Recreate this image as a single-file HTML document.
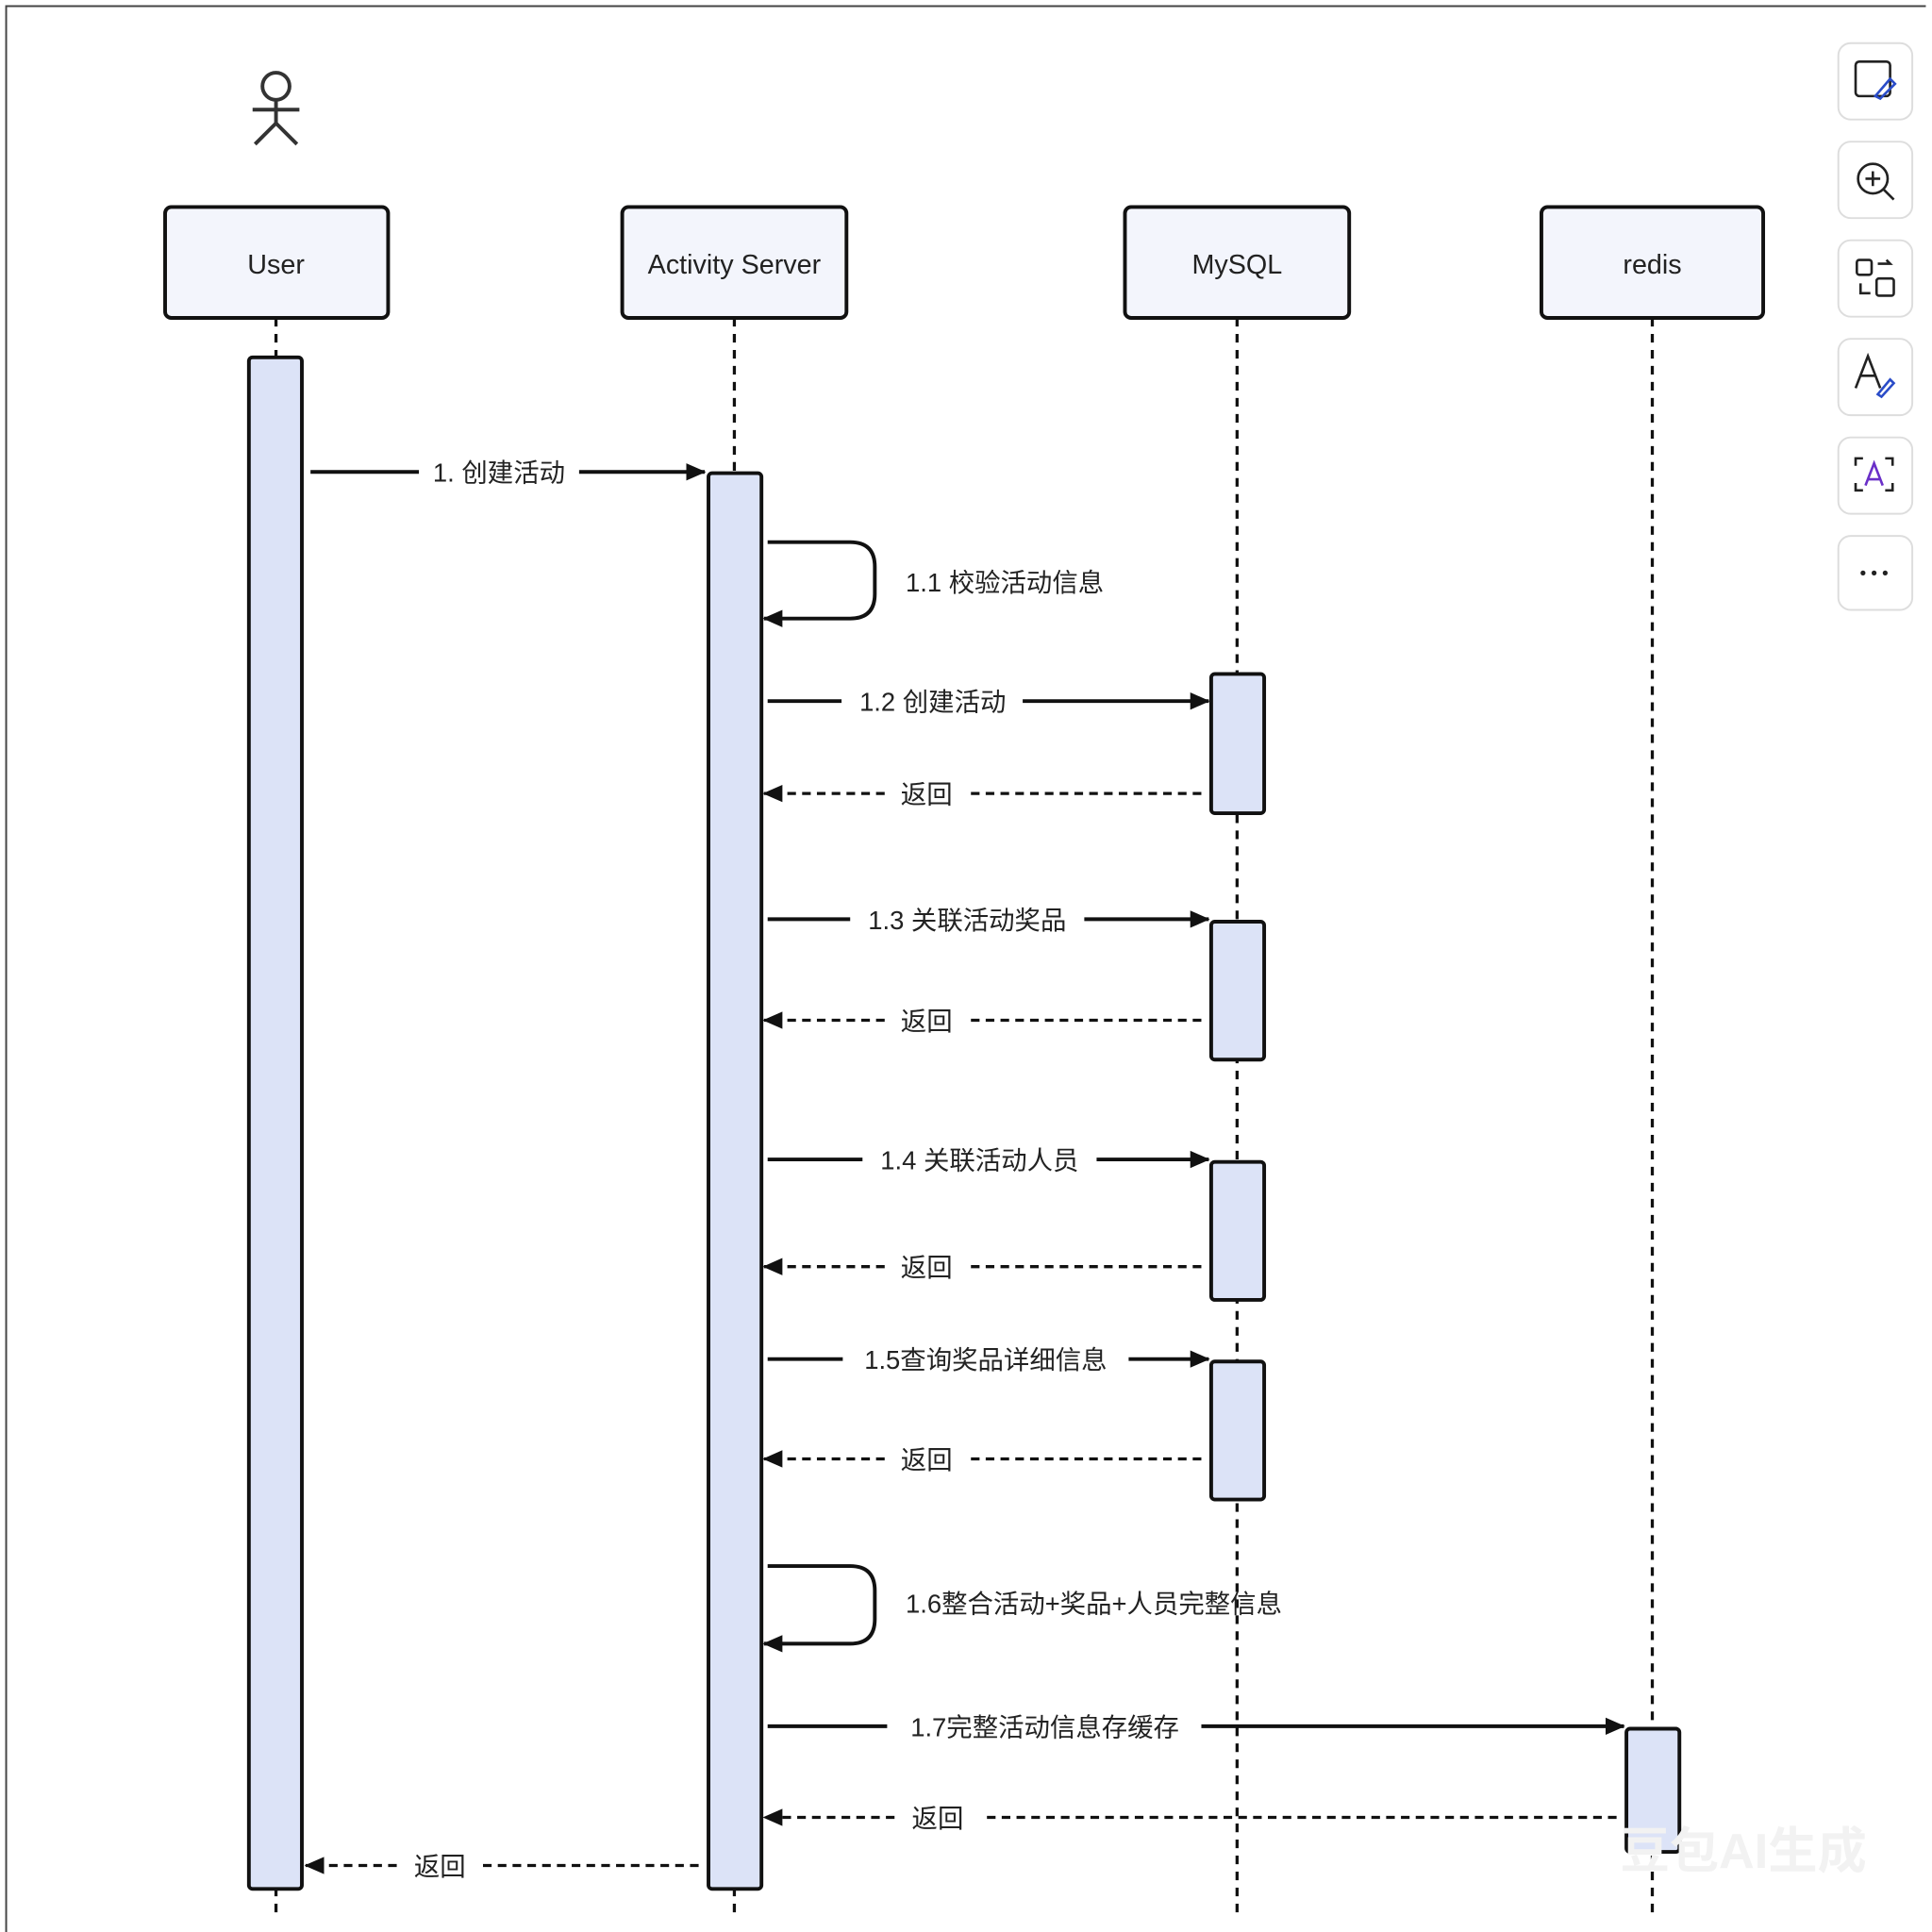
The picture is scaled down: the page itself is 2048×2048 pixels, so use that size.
<!DOCTYPE html>
<html><head><meta charset="utf-8"><style>
html,body{margin:0;padding:0;background:#fff;}
svg{display:block;}
text{font-family:"Liberation Sans","Noto Sans CJK SC",sans-serif;fill:#222;}
</style></head><body>
<svg width="2048" height="2048" viewBox="0 0 1568 1568" xmlns="http://www.w3.org/2000/svg">
<defs>
<marker id="a" markerWidth="16" markerHeight="16" refX="15" refY="8" orient="auto" markerUnits="userSpaceOnUse">
<path d="M0,1 L16,8 L0,15 Z" fill="#111"/>
</marker>
</defs>
<rect x="0" y="0" width="1568" height="1568" fill="#fff"/>
<path d="M5,1568 L5,5 L1563,5" fill="none" stroke="#444" stroke-width="1.5"/>
<g stroke="#333" stroke-width="3" fill="none">
<circle cx="224" cy="70" r="11"/>
<line x1="224" y1="81" x2="224" y2="100"/>
<line x1="205" y1="89" x2="243" y2="89"/>
<line x1="224" y1="100" x2="207" y2="117"/>
<line x1="224" y1="100" x2="241" y2="117"/>
</g>
<g stroke="#111" stroke-width="2.5" stroke-dasharray="7,6">
<line x1="224" y1="258" x2="224" y2="1552"/>
<line x1="596" y1="258" x2="596" y2="1552"/>
<line x1="1004" y1="258" x2="1004" y2="1552"/>
<line x1="1341" y1="258" x2="1341" y2="1552"/>
</g>
<g fill="#f3f5fc" stroke="#111" stroke-width="3">
<rect x="134" y="168" width="181" height="90" rx="5"/>
<rect x="505" y="168" width="182" height="90" rx="5"/>
<rect x="913" y="168" width="182" height="90" rx="5"/>
<rect x="1251" y="168" width="180" height="90" rx="5"/>
</g>
<g font-size="22" text-anchor="middle">
<text x="224" y="222">User</text>
<text x="596" y="222">Activity Server</text>
<text x="1004" y="222">MySQL</text>
<text x="1341" y="222">redis</text>
</g>
<g fill="#dce3f7" stroke="#111" stroke-width="3">
<rect x="202" y="290" width="43" height="1243" rx="3"/>
<rect x="575" y="384" width="43" height="1149" rx="3"/>
<rect x="983" y="547" width="43" height="113" rx="3"/>
<rect x="983" y="748" width="43" height="112" rx="3"/>
<rect x="983" y="943" width="43" height="112" rx="3"/>
<rect x="983" y="1105" width="43" height="112" rx="3"/>
<rect x="1320" y="1403" width="43" height="100" rx="3"/>
</g>
<g stroke="#111" stroke-width="3" fill="none">
<line x1="252" y1="383" x2="340" y2="383"/><line x1="470" y1="383" x2="572" y2="383" marker-end="url(#a)"/>
<path d="M623,440 L690,440 Q710,440 710,460 L710,482 Q710,502 690,502 L620,502" marker-end="url(#a)"/>
<line x1="623" y1="569" x2="683" y2="569"/><line x1="830" y1="569" x2="981" y2="569" marker-end="url(#a)"/>
<line x1="623" y1="746" x2="690" y2="746"/><line x1="880" y1="746" x2="981" y2="746" marker-end="url(#a)"/>
<line x1="623" y1="941" x2="700" y2="941"/><line x1="890" y1="941" x2="981" y2="941" marker-end="url(#a)"/>
<line x1="623" y1="1103" x2="684" y2="1103"/><line x1="916" y1="1103" x2="981" y2="1103" marker-end="url(#a)"/>
<path d="M623,1271 L690,1271 Q710,1271 710,1291 L710,1314 Q710,1334 690,1334 L620,1334" marker-end="url(#a)"/>
<line x1="623" y1="1401" x2="720" y2="1401"/><line x1="975" y1="1401" x2="1318" y2="1401" marker-end="url(#a)"/>
</g>
<g stroke="#111" stroke-width="2.5" fill="none" stroke-dasharray="7,5">
<line x1="975" y1="644" x2="788" y2="644"/><line x1="718" y1="644" x2="620" y2="644" marker-end="url(#a)"/>
<line x1="975" y1="828" x2="788" y2="828"/><line x1="718" y1="828" x2="620" y2="828" marker-end="url(#a)"/>
<line x1="975" y1="1028" x2="788" y2="1028"/><line x1="718" y1="1028" x2="620" y2="1028" marker-end="url(#a)"/>
<line x1="975" y1="1184" x2="788" y2="1184"/><line x1="718" y1="1184" x2="620" y2="1184" marker-end="url(#a)"/>
<line x1="1312" y1="1475" x2="796" y2="1475"/><line x1="726" y1="1475" x2="620" y2="1475" marker-end="url(#a)"/>
<line x1="567" y1="1514" x2="392" y2="1514"/><line x1="322" y1="1514" x2="248" y2="1514" marker-end="url(#a)"/>
</g>
<g font-size="21">
<text x="405" y="391" text-anchor="middle">1. 创建活动</text>
<text x="735" y="480">1.1 校验活动信息</text>
<text x="757" y="577" text-anchor="middle">1.2 创建活动</text>
<text x="752" y="652" text-anchor="middle">返回</text>
<text x="785" y="754" text-anchor="middle">1.3 关联活动奖品</text>
<text x="752" y="836" text-anchor="middle">返回</text>
<text x="795" y="949" text-anchor="middle">1.4 关联活动人员</text>
<text x="752" y="1036" text-anchor="middle">返回</text>
<text x="800" y="1111" text-anchor="middle">1.5查询奖品详细信息</text>
<text x="752" y="1192" text-anchor="middle">返回</text>
<text x="735" y="1309">1.6整合活动+奖品+人员完整信息</text>
<text x="848" y="1409" text-anchor="middle">1.7完整活动信息存缓存</text>
<text x="761" y="1483" text-anchor="middle">返回</text>
<text x="357" y="1522" text-anchor="middle">返回</text>
</g>
<g fill="#fff" stroke="#ddd" stroke-width="1.5">
<rect x="1492" y="35" width="60" height="62" rx="10"/>
<rect x="1492" y="115" width="60" height="62" rx="10"/>
<rect x="1492" y="195" width="60" height="62" rx="10"/>
<rect x="1492" y="275" width="60" height="62" rx="10"/>
<rect x="1492" y="355" width="60" height="62" rx="10"/>
<rect x="1492" y="435" width="60" height="60" rx="10"/>
</g>
<g stroke="#222" stroke-width="2" fill="none">
<rect x="1506" y="50" width="28" height="28" rx="3"/>
<path d="M1522,78 L1534,64 L1538,68 L1526,80 Z" stroke="#2a4cc8"/>
<circle cx="1520" cy="145" r="12"/><line x1="1529" y1="154" x2="1537" y2="162"/>
<line x1="1514" y1="145" x2="1526" y2="145"/><line x1="1520" y1="139" x2="1520" y2="151"/>
<rect x="1507" y="211" width="12" height="12" rx="2"/><rect x="1523" y="226" width="14" height="14" rx="2"/>
<path d="M1524,214 L1534,214 L1531,211"/><path d="M1518,238 L1510,238 L1510,230"/>
<path d="M1506,315 L1516,289 L1526,315 M1510,305 L1522,305"/>
<path d="M1524,320 L1534,308 L1537,311 L1527,322 Z" stroke="#2a4cc8"/>
<path d="M1506,378 L1506,372 L1512,372 M1530,372 L1536,372 L1536,378 M1506,392 L1506,398 L1512,398 M1530,398 L1536,398 L1536,392"/>
<path d="M1514,394 L1521,376 L1528,394 M1516,389 L1526,389" stroke="#6a2fc8"/>
</g>
<g fill="#222"><circle cx="1512" cy="465" r="2"/><circle cx="1521" cy="465" r="2"/><circle cx="1530" cy="465" r="2"/></g>
<text x="1415" y="1516" font-size="40" font-weight="bold" text-anchor="middle" style="fill:#f2f2f2">豆包AI生成</text>
</svg>
</body></html>
